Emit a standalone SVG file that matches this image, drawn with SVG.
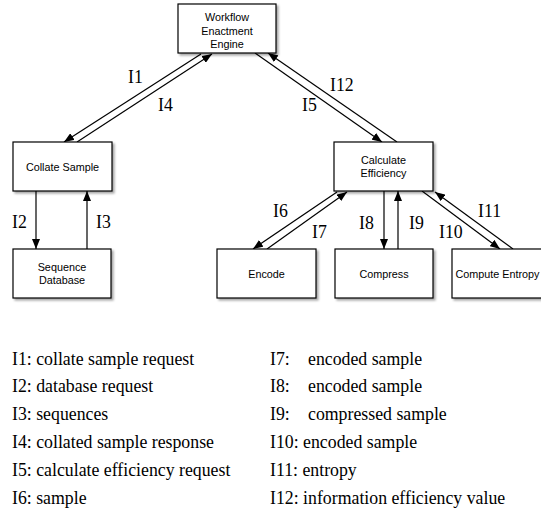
<svg xmlns="http://www.w3.org/2000/svg" width="541" height="513" viewBox="0 0 541 513">
<defs>
<filter id="sh" x="-10%" y="-10%" width="130%" height="130%">
<feDropShadow dx="2" dy="2" stdDeviation="1" flood-color="#000" flood-opacity="0.35"/>
</filter>
<marker id="ah" viewBox="0 0 10 8" refX="10" refY="4" markerWidth="10" markerHeight="8" markerUnits="userSpaceOnUse" orient="auto">
<path d="M0,0 L10,4 L0,8 Z" fill="#000"/>
</marker>
<style>
.box{fill:#fff;stroke:#000;stroke-width:1.2;filter:url(#sh)}
.nt{font-family:"Liberation Sans",Arial,sans-serif;font-size:10.8px;fill:#000;text-anchor:middle}
.lb{font-family:"Liberation Serif","Times New Roman",serif;font-size:17.8px;fill:#000}
.cn line{stroke:#000;stroke-width:1.2;marker-end:url(#ah)}
</style>
</defs>
<rect width="541" height="513" fill="#fff"/>
<g class="cn" id="connectors">
<line x1="201" y1="54" x2="64" y2="142"/>
<line x1="77" y1="142" x2="212" y2="54"/>
<line x1="255" y1="53" x2="382" y2="142"/>
<line x1="397" y1="142" x2="268" y2="53"/>
<line x1="36" y1="191" x2="36" y2="249"/>
<line x1="87" y1="249" x2="87" y2="191"/>
<line x1="337" y1="192" x2="253" y2="249"/>
<line x1="267" y1="249" x2="347" y2="192"/>
<line x1="384" y1="191" x2="384" y2="249"/>
<line x1="398" y1="249" x2="398" y2="191"/>
<line x1="422" y1="191" x2="500" y2="249"/>
<line x1="513" y1="249" x2="435" y2="192"/>
</g>
<g id="workflow"><rect class="box" x="178" y="4" width="98" height="49"/>
<text class="nt" x="227" y="21">Workflow</text><text class="nt" x="227" y="34.5">Enactment</text><text class="nt" x="227" y="48">Engine</text></g>
<g id="collate"><rect class="box" x="13" y="142" width="99" height="49"/><text class="nt" x="62.5" y="170.5">Collate Sample</text></g>
<g id="seqdb"><rect class="box" x="13" y="249" width="98" height="49"/><text class="nt" x="62" y="270.5">Sequence</text><text class="nt" x="62" y="284">Database</text></g>
<g id="calc"><rect class="box" x="334" y="142" width="99" height="49"/><text class="nt" x="383.5" y="163.5">Calculate</text><text class="nt" x="383.5" y="177">Efficiency</text></g>
<g id="encode"><rect class="box" x="217" y="249" width="99" height="49"/><text class="nt" x="266.5" y="277.5">Encode</text></g>
<g id="compress"><rect class="box" x="335" y="249" width="98" height="49"/><text class="nt" x="384" y="277.5">Compress</text></g>
<g id="entropy"><rect class="box" x="452" y="249" width="98" height="49"/><text class="nt" x="497.5" y="277.5">Compute Entropy</text></g>
<g id="labels">
<text class="lb" x="128" y="83">I1</text>
<text class="lb" x="158" y="111">I4</text>
<text class="lb" x="330" y="91">I12</text>
<text class="lb" x="302" y="111">I5</text>
<text class="lb" x="12" y="228">I2</text>
<text class="lb" x="96" y="228">I3</text>
<text class="lb" x="273" y="217">I6</text>
<text class="lb" x="312" y="238">I7</text>
<text class="lb" x="359" y="229">I8</text>
<text class="lb" x="409" y="229">I9</text>
<text class="lb" x="439" y="238">I10</text>
<text class="lb" x="478" y="217">I11</text>
</g>
<g id="legend">
<text class="lb" x="12" y="364.5">I1: collate sample request</text>
<text class="lb" x="12" y="392.3">I2: database request</text>
<text class="lb" x="12" y="420">I3: sequences</text>
<text class="lb" x="12" y="448">I4: collated sample response</text>
<text class="lb" x="12" y="476">I5: calculate efficiency request</text>
<text class="lb" x="12" y="503.5">I6: sample</text>
<text class="lb" x="270" y="364.5">I7:<tspan x="308">encoded sample</tspan></text>
<text class="lb" x="270" y="392.3">I8:<tspan x="308">encoded sample</tspan></text>
<text class="lb" x="270" y="420">I9:<tspan x="308">compressed sample</tspan></text>
<text class="lb" x="270" y="448">I10: encoded sample</text>
<text class="lb" x="270" y="476">I11: entropy</text>
<text class="lb" x="270" y="503.5">I12: information efficiency value</text>
</g>
</svg>
